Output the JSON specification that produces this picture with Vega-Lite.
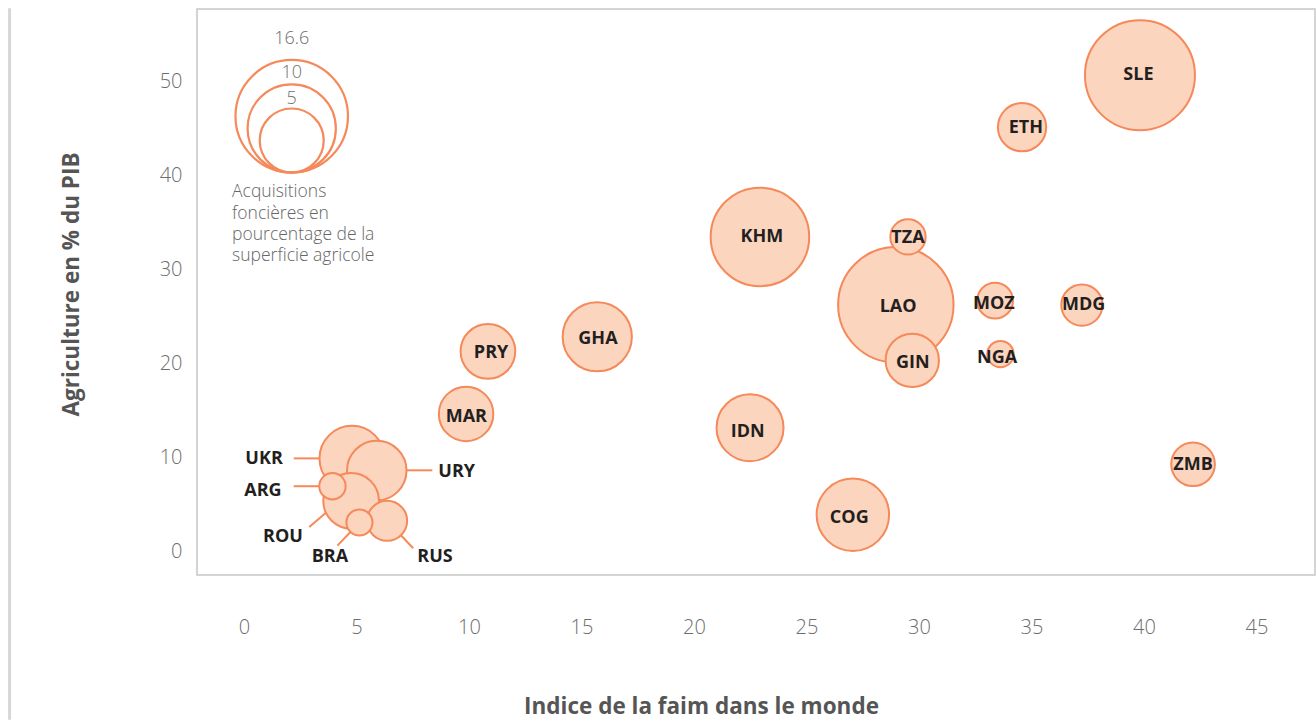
{
  "$schema": "https://vega.github.io/schema/vega-lite/v6.json",
  "width": 1118,
  "height": 566,
  "autosize": {"type": "none"},
  "padding": {"left": 197, "top": 9, "right": 1, "bottom": 145},
  "background": "#ffffff",
  "config": {
    "view": {"stroke": "#c6c6c6", "strokeWidth": 1.5},
    "font": "Open Sans"
  },
  "datasets": {
    "bubbles": [
      {"code": "SLE", "x": 39.82, "y": 50.64, "acq": 15.85, "lx": 39.75, "ly": 50.72},
      {"code": "ETH", "x": 34.58, "y": 45.11, "acq": 2.61, "lx": 34.75, "ly": 45.1},
      {"code": "KHM", "x": 22.93, "y": 33.45, "acq": 12.6, "lx": 23.02, "ly": 33.53},
      {"code": "TZA", "x": 29.51, "y": 33.45, "acq": 1.14, "lx": 29.51, "ly": 33.45},
      {"code": "LAO", "x": 28.97, "y": 26.23, "acq": 17.5, "lx": 29.07, "ly": 26.09},
      {"code": "MOZ", "x": 33.38, "y": 26.67, "acq": 1.19, "lx": 33.33, "ly": 26.41},
      {"code": "MDG", "x": 37.24, "y": 26.2, "acq": 1.75, "lx": 37.32, "ly": 26.3},
      {"code": "NGA", "x": 33.62, "y": 20.99, "acq": 0.39, "lx": 33.47, "ly": 20.67},
      {"code": "GIN", "x": 29.7, "y": 20.32, "acq": 3.3, "lx": 29.72, "ly": 20.17},
      {"code": "PRY", "x": 10.84, "y": 21.28, "acq": 3.5, "lx": 10.98, "ly": 21.17},
      {"code": "GHA", "x": 15.7, "y": 22.83, "acq": 5.94, "lx": 15.73, "ly": 22.72},
      {"code": "MAR", "x": 9.87, "y": 14.63, "acq": 3.47, "lx": 9.88, "ly": 14.4},
      {"code": "IDN", "x": 22.49, "y": 13.16, "acq": 5.53, "lx": 22.39, "ly": 12.84},
      {"code": "COG", "x": 27.06, "y": 3.91, "acq": 6.57, "lx": 26.9, "ly": 3.7},
      {"code": "ZMB", "x": 42.18, "y": 9.27, "acq": 2.03, "lx": 42.18, "ly": 9.3},
      {"code": "UKR", "x": 4.8, "y": 9.9, "acq": 5.18, "lx": 0.89, "ly": 9.94},
      {"code": "URY", "x": 5.9, "y": 8.6, "acq": 4.25, "lx": 9.45, "ly": 8.59},
      {"code": "ARG", "x": 3.93, "y": 6.94, "acq": 0.39, "lx": 0.84, "ly": 6.54},
      {"code": "ROU", "x": 4.76, "y": 5.39, "acq": 3.65, "lx": 1.73, "ly": 1.61},
      {"code": "BRA", "x": 5.13, "y": 3.08, "acq": 0.37, "lx": 3.82, "ly": -0.51},
      {"code": "RUS", "x": 6.36, "y": 3.26, "acq": 1.62, "lx": 8.49, "ly": -0.51}
    ],
    "leaders": [
      {"code": "UKR", "x1": 2.21, "y1": 9.9, "x2": 3.35, "y2": 9.9},
      {"code": "ARG", "x1": 2.21, "y1": 6.94, "x2": 3.35, "y2": 6.94},
      {"code": "URY", "x1": 7.23, "y1": 8.63, "x2": 8.37, "y2": 8.63},
      {"code": "ROU", "x1": 2.9, "y1": 2.6, "x2": 3.64, "y2": 4.12},
      {"code": "BRA", "x1": 4.15, "y1": 0.62, "x2": 4.74, "y2": 2.1},
      {"code": "RUS", "x1": 6.96, "y1": 1.75, "x2": 7.52, "y2": 0.34}
    ],
    "legend": [
      {"v": 16.6, "cx": 2.12, "cy": 46.28, "ty": 54.6},
      {"v": 10, "cx": 2.12, "cy": 44.98, "ty": 50.96},
      {"v": 5, "cx": 2.12, "cy": 43.7, "ty": 48.2}
    ],
    "legendText": [
      {"t": "Acquisitions\nfoncières en\npourcentage de la\nsuperficie agricole", "x": -0.53, "y": 37.64}
    ],
    "border": [
      {"x": -10.42, "y": 57.75, "y2": -17.9}
    ]
  },
  "layer": [
    {
      "data": {"name": "border"},
      "mark": {"type": "rule", "color": "#d6d6d6", "strokeWidth": 3, "clip": false},
      "encoding": {
        "x": {"field": "x", "type": "quantitative"},
        "y": {"field": "y", "type": "quantitative"},
        "y2": {"field": "y2"}
      }
    },
    {
      "mark": {"type": "rule", "color": "#777777", "strokeWidth": 1.2, "strokeDash": [5, 4]},
      "encoding": {"x": {"datum": 21.3, "type": "quantitative"}}
    },
    {
      "mark": {"type": "rule", "color": "#777777", "strokeWidth": 1.2, "strokeDash": [5, 4]},
      "encoding": {"y": {"datum": 19.6, "type": "quantitative"}}
    },
    {
      "data": {"name": "leaders"},
      "mark": {"type": "rule", "color": "#f5895a", "strokeWidth": 2},
      "encoding": {
        "x": {"field": "x1", "type": "quantitative"},
        "y": {"field": "y1", "type": "quantitative"},
        "x2": {"field": "x2"},
        "y2": {"field": "y2"}
      }
    },
    {
      "data": {"name": "bubbles"},
      "mark": {"type": "point", "shape": "circle", "filled": true, "fill": "#fcd5bf", "stroke": "#f5895a", "strokeWidth": 2, "opacity": 1},
      "encoding": {
        "x": {
          "field": "x", "type": "quantitative",
          "scale": {"domain": [-2.09, 47.6], "nice": false, "zero": false},
          "axis": {
            "values": [0, 5, 10, 15, 20, 25, 30, 35, 40, 45],
            "title": "Indice de la faim dans le monde",
            "grid": false, "domain": false, "ticks": false, "tickSize": 0,
            "labelFont": "Open Sans", "labelFontSize": 20, "labelFontWeight": 300, "labelColor": "#6d6d6d",
            "labelPadding": 42,
            "titleFont": "Open Sans", "titleFontSize": 22.5, "titleFontWeight": "bold", "titleColor": "#555555",
            "titleX": 504, "titleY": 138, "titleAlign": "center", "titleBaseline": "alphabetic"
          }
        },
        "y": {
          "field": "y", "type": "quantitative",
          "scale": {"domain": [-2.5, 57.68], "nice": false, "zero": false},
          "axis": {
            "values": [0, 10, 20, 30, 40, 50],
            "title": "Agriculture en % du PIB",
            "grid": false, "domain": false, "ticks": false, "tickSize": 0,
            "labelFont": "Open Sans", "labelFontSize": 20, "labelFontWeight": 300, "labelColor": "#6d6d6d",
            "labelPadding": 15,
            "titleFont": "Open Sans", "titleFontSize": 22.5, "titleFontWeight": "bold", "titleColor": "#555555",
            "titleX": -118.7, "titleY": 275, "titleAngle": 270, "titleAlign": "center", "titleBaseline": "alphabetic"
          }
        },
        "size": {
          "field": "acq", "type": "quantitative",
          "scale": {"type": "linear", "domain": [5, 16.6], "range": [4096, 12655], "zero": false},
          "legend": null
        },
        "order": {"field": "acq", "sort": "descending"}
      }
    },
    {
      "data": {"name": "bubbles"},
      "mark": {"type": "text", "font": "Open Sans", "fontWeight": "bold", "fontSize": 18, "color": "#231f20", "align": "center", "baseline": "middle", "dy": 1},
      "encoding": {
        "x": {"field": "lx", "type": "quantitative"},
        "y": {"field": "ly", "type": "quantitative"},
        "text": {"field": "code"}
      }
    },
    {
      "data": {"name": "legend"},
      "mark": {"type": "point", "shape": "circle", "filled": false, "stroke": "#f5895a", "strokeWidth": 2.2, "opacity": 1},
      "encoding": {
        "x": {"field": "cx", "type": "quantitative"},
        "y": {"field": "cy", "type": "quantitative"},
        "size": {"field": "v", "type": "quantitative"}
      }
    },
    {
      "data": {"name": "legend"},
      "mark": {"type": "text", "font": "Open Sans", "fontWeight": 300, "fontSize": 18, "color": "#707070", "align": "center", "baseline": "middle", "dy": 1},
      "encoding": {
        "x": {"field": "cx", "type": "quantitative"},
        "y": {"field": "ty", "type": "quantitative"},
        "text": {"field": "v", "type": "quantitative", "format": ""}
      }
    },
    {
      "data": {"name": "legendText"},
      "mark": {"type": "text", "font": "Open Sans", "fontWeight": 300, "fontSize": 17.5, "color": "#666666", "align": "left", "baseline": "alphabetic", "lineBreak": "\n", "lineHeight": 21.3},
      "encoding": {
        "x": {"field": "x", "type": "quantitative"},
        "y": {"field": "y", "type": "quantitative"},
        "text": {"field": "t"}
      }
    }
  ]
}
